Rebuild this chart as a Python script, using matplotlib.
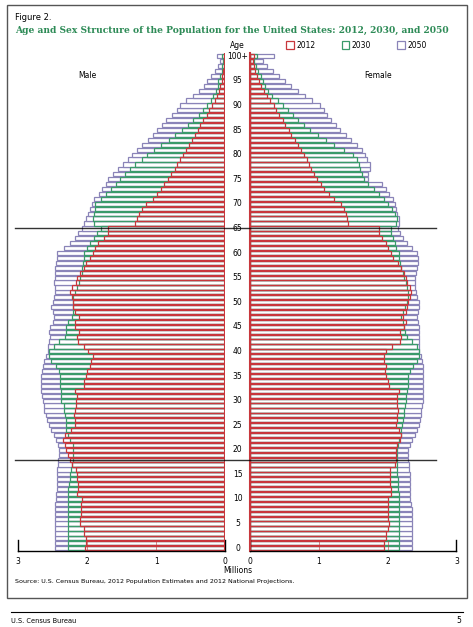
import matplotlib
matplotlib.use("Agg")
import matplotlib.pyplot as plt
import numpy as np

ages = list(range(101))
age_labels = ["0","5","10","15","20","25","30","35","40","45","50","55","60","65","70","75","80","85","90","95","100+"]
years = ["2012", "2030", "2050"]

male_2012 = [2.03,2.02,2.02,2.04,2.05, 2.10,2.10,2.09,2.09,2.09, 2.08,2.15,2.13,2.13,2.14,
             2.14,2.16,2.22,2.24,2.27, 2.30,2.32,2.35,2.32,2.23, 2.18,2.18,2.19,2.18,2.16,
             2.16,2.15,2.18,2.05,2.04, 2.02,2.00,1.95,1.94,1.92, 1.98,2.05,2.13,2.15,2.12,
             2.17,2.18,2.12,2.18,2.20, 2.20,2.22,2.24,2.22,2.16, 2.15,2.10,2.05,2.02,1.95,
             1.92,1.88,1.84,1.75,1.70, 1.70,1.30,1.28,1.25,1.20, 1.15,1.05,0.98,0.93,0.88,
             0.83,0.78,0.73,0.70,0.65, 0.61,0.57,0.52,0.48,0.44, 0.40,0.36,0.32,0.27,0.23,
             0.19,0.15,0.12,0.09,0.07, 0.05,0.04,0.03,0.02,0.01, 0.02]
male_2030 = [2.28,2.28,2.28,2.28,2.28, 2.28,2.28,2.28,2.28,2.28, 2.28,2.27,2.27,2.26,2.25,
             2.24,2.23,2.22,2.21,2.20, 2.20,2.21,2.24,2.28,2.30, 2.30,2.31,2.32,2.33,2.34,
             2.37,2.38,2.38,2.39,2.39, 2.39,2.40,2.45,2.52,2.55, 2.55,2.48,2.40,2.32,2.30,
             2.30,2.28,2.22,2.20,2.20, 2.20,2.21,2.18,2.15,2.12, 2.10,2.08,2.07,2.06,2.05,
             2.05,2.00,1.95,1.90,1.85, 1.80,1.90,1.92,1.90,1.88, 1.88,1.80,1.73,1.65,1.58,
             1.52,1.45,1.38,1.30,1.21, 1.13,1.03,0.93,0.82,0.72, 0.62,0.54,0.46,0.38,0.32,
             0.26,0.21,0.17,0.13,0.11, 0.10,0.07,0.05,0.04,0.03, 0.05]
male_2050 = [2.46,2.46,2.46,2.46,2.46, 2.46,2.46,2.46,2.46,2.46, 2.45,2.45,2.44,2.44,2.43,
             2.43,2.43,2.42,2.42,2.41, 2.40,2.42,2.45,2.48,2.52, 2.55,2.58,2.60,2.62,2.63,
             2.64,2.65,2.66,2.66,2.66, 2.66,2.65,2.64,2.62,2.60, 2.57,2.56,2.55,2.54,2.55,
             2.53,2.50,2.48,2.50,2.52, 2.50,2.48,2.46,2.47,2.48, 2.46,2.47,2.46,2.45,2.43,
             2.43,2.33,2.25,2.18,2.13, 2.07,2.05,2.02,1.98,1.95, 1.93,1.90,1.83,1.78,1.73,
             1.70,1.62,1.55,1.48,1.40, 1.35,1.28,1.20,1.12,1.05, 0.99,0.92,0.85,0.77,0.70,
             0.65,0.56,0.47,0.38,0.31, 0.26,0.20,0.15,0.10,0.07, 0.12]

female_2012 = [1.94,1.95,1.97,1.98,2.00, 2.02,2.01,2.01,2.00,2.00, 2.00,2.05,2.05,2.04,2.03,
               2.03,2.04,2.10,2.12,2.12, 2.12,2.14,2.18,2.20,2.16, 2.12,2.13,2.14,2.15,2.14,
               2.14,2.13,2.17,2.02,2.00, 1.98,1.96,1.97,1.95,1.94, 1.98,2.06,2.18,2.20,2.18,
               2.24,2.26,2.22,2.27,2.28, 2.30,2.32,2.34,2.32,2.28, 2.27,2.23,2.19,2.15,2.08,
               2.05,2.01,1.97,1.91,1.87, 1.87,1.42,1.41,1.40,1.36, 1.32,1.22,1.15,1.08,1.03,
               0.97,0.93,0.89,0.86,0.82, 0.78,0.74,0.70,0.65,0.60, 0.56,0.51,0.47,0.42,0.38,
               0.34,0.29,0.24,0.20,0.16, 0.13,0.10,0.07,0.05,0.04, 0.05]
female_2030 = [2.17,2.17,2.17,2.17,2.17, 2.17,2.17,2.17,2.17,2.16, 2.16,2.16,2.15,2.15,2.15,
               2.14,2.14,2.14,2.13,2.13, 2.14,2.15,2.17,2.19,2.20, 2.21,2.22,2.23,2.24,2.25,
               2.26,2.27,2.28,2.29,2.30, 2.30,2.32,2.37,2.43,2.45, 2.46,2.42,2.35,2.28,2.25,
               2.24,2.22,2.20,2.22,2.25, 2.28,2.30,2.30,2.28,2.26, 2.24,2.22,2.20,2.18,2.16,
               2.16,2.12,2.10,2.08,2.05, 2.05,2.12,2.13,2.10,2.06, 2.00,1.95,1.88,1.80,1.72,
               1.65,1.62,1.60,1.58,1.55, 1.50,1.36,1.22,1.10,0.98, 0.87,0.78,0.70,0.62,0.55,
               0.48,0.40,0.32,0.26,0.22, 0.19,0.15,0.11,0.08,0.06, 0.10]
female_2050 = [2.36,2.36,2.36,2.36,2.36, 2.36,2.35,2.35,2.35,2.34, 2.33,2.33,2.33,2.32,2.32,
               2.32,2.31,2.31,2.30,2.30, 2.30,2.32,2.35,2.39,2.42, 2.45,2.47,2.48,2.49,2.50,
               2.51,2.51,2.52,2.52,2.52, 2.52,2.52,2.51,2.50,2.48, 2.46,2.45,2.45,2.45,2.45,
               2.45,2.44,2.42,2.44,2.45, 2.45,2.43,2.41,2.40,2.40, 2.39,2.41,2.43,2.44,2.44,
               2.43,2.35,2.28,2.22,2.18, 2.15,2.16,2.17,2.14,2.12, 2.11,2.08,2.02,1.97,1.92,
               1.72,1.72,1.74,1.74,1.70, 1.67,1.62,1.55,1.47,1.39, 1.31,1.25,1.18,1.12,1.07,
               1.02,0.90,0.80,0.70,0.60, 0.50,0.42,0.33,0.25,0.19, 0.34]

colors = {"2012": "#c8373c", "2030": "#3a9a6a", "2050": "#8a84b8"}
male = {"2012": male_2012, "2030": male_2030, "2050": male_2050}
female = {"2012": female_2012, "2030": female_2030, "2050": female_2050}

fig = plt.figure(figsize=(4.73, 6.27), dpi=100)
fig.patch.set_facecolor("white")

axL = fig.add_axes([0.038, 0.121, 0.438, 0.794])
axR = fig.add_axes([0.529, 0.121, 0.436, 0.794])

for yr in ["2050", "2030", "2012"]:
    axL.barh(ages, male[yr], height=0.85, facecolor="white" if yr == "2050" else "none",
             edgecolor=colors[yr], linewidth=0.9)
    axR.barh(ages, female[yr], height=0.85, facecolor="white" if yr == "2050" else "none",
             edgecolor=colors[yr], linewidth=0.9)

for ax in (axL, axR):
    ax.set_ylim(-0.6, 100.6)
    ax.set_xlim(0, 3)
    for s in ["top", "right", "left"]:
        ax.spines[s].set_visible(False)
    ax.spines["bottom"].set_linewidth(1.0)
    ax.set_yticks([])
    ax.set_xticks([0, 1, 2, 3])
    ax.set_xticklabels(["0", "1", "2", "3"], fontsize=5.5)
    ax.tick_params(axis="x", direction="in", length=0, pad=4)
    for xv in [1, 2]:
        ax.plot([xv, xv], [-0.6, 1.4], color=colors["2012"], lw=0.7, alpha=0.6)
    for xv in [0, 3]:
        ax.plot([xv, xv], [-0.6, 1.6], color="black", lw=1.0, clip_on=False)
axL.invert_xaxis()
axR.spines["left"].set_visible(True)
axR.spines["left"].set_color(colors["2012"])
axR.spines["left"].set_linewidth(1.5)
axL.plot([0, 0], [-0.6, 100.6], color=colors["2012"], lw=1.5)

# age labels
for i, lab in enumerate(age_labels):
    a = i * 5
    fig.text(0.5025, 0.121 + 0.794 * (a + 0.6) / 101.2, lab, ha="center", va="center", fontsize=5.5)
fig.text(0.5025, 0.928, "Age", ha="center", va="center", fontsize=5.5)
fig.text(0.5025, 0.090, "Millions", ha="center", va="center", fontsize=5.5)
fig.text(0.185, 0.875, "Male", ha="center", fontsize=5.5)
fig.text(0.80, 0.875, "Female", ha="center", fontsize=5.5)

# reference lines at 65 and 18
for a in [65, 18]:
    yf = 0.121 + 0.794 * (a + 0.6) / 101.2
    fig.add_artist(plt.Line2D([0.032, 0.922], [yf, yf], color="black", lw=1.0, alpha=0.8))

# legend
lx = [0.605, 0.722, 0.84]
for x, yr in zip(lx, years):
    fig.add_artist(plt.Rectangle((x, 0.922), 0.016, 0.012, facecolor="white",
                                 edgecolor=colors[yr], lw=0.9))
    fig.text(x + 0.022, 0.928, yr, fontsize=5.5, va="center")

fig.text(0.032, 0.968, "Figure 2.", fontsize=6)
fig.text(0.032, 0.948, "Age and Sex Structure of the Population for the United States: 2012, 2030, and 2050",
         fontsize=6.6, color="#2e8b57", fontweight="bold", family="DejaVu Serif")
fig.text(0.032, 0.070, "Source: U.S. Census Bureau, 2012 Population Estimates and 2012 National Projections.",
         fontsize=4.6)

fig.add_artist(plt.Rectangle((0.015, 0.047), 0.972, 0.945, fill=False, edgecolor="#555555", lw=1.0))
fig.add_artist(plt.Line2D([0.023, 0.978], [0.024, 0.024], color="black", lw=0.8))
fig.text(0.023, 0.006, "U.S. Census Bureau", fontsize=4.8)
fig.text(0.975, 0.006, "5", fontsize=5.5, ha="right")

fig.savefig("out.png", dpi=100)
